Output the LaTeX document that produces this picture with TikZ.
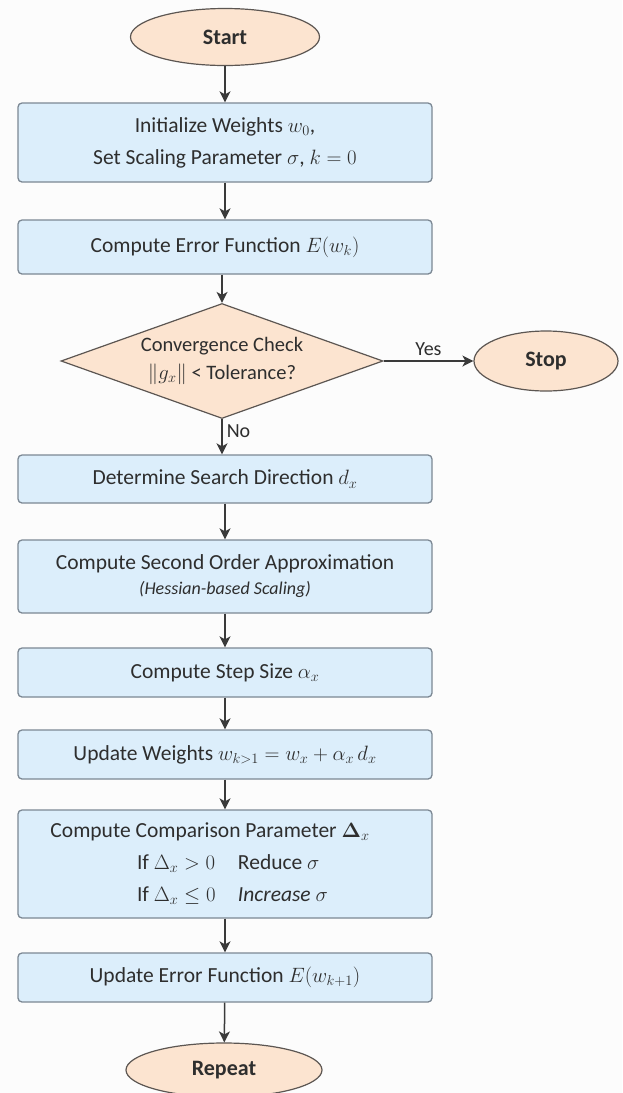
\documentclass[tikz,border=0pt]{standalone}
\usepackage{amsmath}
\usepackage{fontspec}
\setmainfont{Carlito}
\usetikzlibrary{shapes.geometric,arrows.meta}
\definecolor{boxfill}{HTML}{DCEEFB}
\definecolor{boxdraw}{HTML}{7C8894}
\definecolor{ovalfill}{HTML}{FCE4D0}
\definecolor{ovaldraw}{HTML}{5C5652}
\definecolor{txt}{HTML}{2E2E2E}
\definecolor{arr}{HTML}{3A3A3A}
\begin{document}
\begin{tikzpicture}[x=1pt,y=-1pt,
  font=\fontsize{21.5}{32}\selectfont, text=txt,
  procbox/.style={draw=boxdraw, fill=boxfill, rounded corners=4pt, line width=1.3pt,
    minimum width=414pt, align=center, inner sep=0pt},
  oval/.style={ellipse, draw=ovaldraw, fill=ovalfill, line width=1.2pt, inner sep=0pt,
    font=\fontsize{22}{25}\selectfont\bfseries},
  decision/.style={diamond, draw=ovaldraw, fill=ovalfill, line width=1.2pt, inner sep=0pt,
    minimum width=322pt, minimum height=115pt, aspect=2.8, align=center,
    font=\fontsize{20.5}{28}\selectfont},
  flow/.style={draw=arr, line width=1.5pt, -{Stealth[length=11pt,width=11pt,inset=3pt]}},
  lbl/.style={font=\fontsize{20}{22}\selectfont, text=txt, inner sep=0pt}
]
\fill[white!99!black] (0,0) rectangle (622,1093);
\useasboundingbox (0,0) rectangle (622,1093);

\node[oval, minimum width=189pt, minimum height=57pt] (start) at (225,37) {Start};

\node[procbox, minimum height=79pt] (b1) at (225,142.5)
  {Initialize Weights $w_0$,\\ Set Scaling Parameter $\sigma$,\ $k=0$};
\node[procbox, minimum height=54pt] (b2) at (225,247) {Compute Error Function $E(w_k)$};

\node[decision] (dec) at (222,361) {Convergence Check\\ $\lVert g_x\rVert$ < Tolerance?};
\node[oval, minimum width=144pt, minimum height=60pt] (stop) at (546,361) {Stop};

\node[procbox, minimum height=48pt] (b3) at (225,479) {Determine Search Direction $d_x$};
\node[procbox, minimum height=73pt] (b4) at (225,576.5)
  {Compute Second Order Approximation\\[-7pt] {\fontsize{18}{20}\selectfont\itshape (Hessian-based Scaling)}};
\node[procbox, minimum height=49pt] (b5) at (225,672.5) {Compute Step Size $\alpha_x$};
\node[procbox, minimum height=49pt] (b6) at (225,754.5)
  {Update Weights $w_{k>1} = w_x + \alpha_x\, d_x$};
\node[procbox, minimum height=108pt] (b7) at (225,864)
  {Compute Comparison Parameter $\boldsymbol{\Delta}_x$\hspace*{30pt}\\
   \makebox[101pt][l]{If $\Delta_x > 0$}\makebox[75pt][l]{Reduce $\sigma$}\\
   \makebox[101pt][l]{If $\Delta_x \le 0$}\makebox[75pt][l]{\itshape Increase $\sigma$}};
\node[procbox, minimum height=49pt] (b8) at (225,977.5) {Update Error Function $E(w_{k+1})$};

\node[oval, minimum width=196pt, minimum height=54pt] (rep) at (224,1070) {Repeat};

\draw[flow] (start) -- (b1);
\draw[flow] (b1) -- (b2);
\draw[flow] (b2.south -| dec.north) -- (dec.north);
\draw[flow] (dec.east) -- node[lbl, above=5pt] {Yes} (stop.west);
\draw[flow] (dec.south) -- node[lbl, right=4pt, pos=0.35] {No} (b3.north -| dec.south);
\draw[flow] (b3) -- (b4);
\draw[flow] (b4) -- (b5);
\draw[flow] (b5) -- (b6);
\draw[flow] (b6) -- (b7);
\draw[flow] (b7) -- (b8);
\draw[flow] (b8) -- (rep);
\end{tikzpicture}
\end{document}
